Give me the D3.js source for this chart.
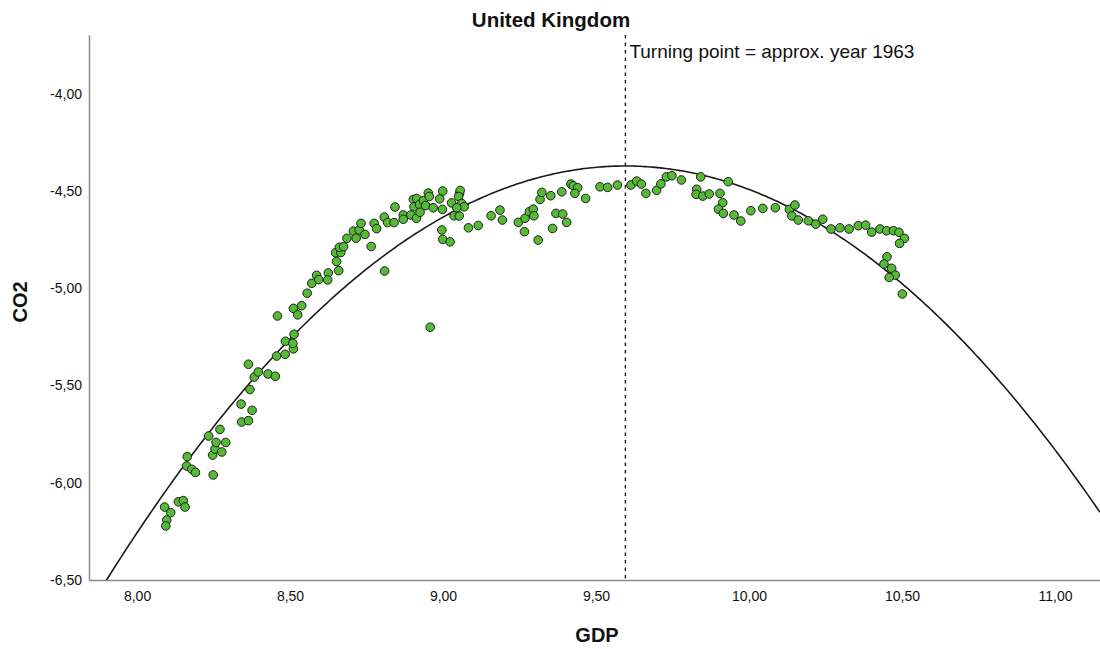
<!DOCTYPE html>
<html>
<head>
<meta charset="utf-8">
<script src="https://cdn.jsdelivr.net/npm/d3@7"></script>
<style>
  html, body { margin: 0; padding: 0; background: #fff; }
  svg { display: block; font-family: "Liberation Sans", Arial, sans-serif; }
</style>
</head>
<body>
<svg id="chart" width="1100" height="649"></svg>
<script>
// Observations: log GDP per capita vs log CO2 per capita
const gdp = [8.090, 8.110, 8.097, 8.094, 8.135, 8.151, 8.157, 8.164, 8.162, 8.179, 8.191, 8.234, 8.249, 8.247, 8.255, 8.258, 8.271, 8.277, 8.290,
  8.340, 8.342, 8.364, 8.369, 8.376, 8.364, 8.383, 8.396, 8.428, 8.452, 8.456, 8.484, 8.511, 8.485, 8.509, 8.513, 8.459, 8.511, 8.525, 8.538,
  8.556, 8.571, 8.587, 8.594, 8.625, 8.623, 8.659, 8.652, 8.649, 8.666, 8.661, 8.675, 8.686, 8.707, 8.716, 8.726, 8.732, 8.745, 8.765, 8.775,
  8.783, 8.809, 8.808, 8.819, 8.840, 8.843, 8.870, 8.870, 8.895, 8.913, 8.903, 8.914, 8.905, 8.923, 8.925, 8.936, 8.952, 8.955, 8.943, 8.968,
  8.989, 8.999, 8.998, 9.028, 9.036, 9.053, 9.054, 9.056, 9.051, 9.061, 9.069, 9.045, 8.996, 8.999, 9.023, 8.958, 9.083, 9.115, 9.157, 9.186,
  9.194, 9.246, 9.268, 9.266, 9.282, 9.295, 9.297, 9.311, 9.317, 9.323, 9.352, 9.358, 9.369, 9.391, 9.404, 9.388, 9.418, 9.426, 9.440, 9.431,
  9.466, 9.513, 9.538, 9.570, 9.614, 9.633, 9.648, 9.663, 9.698, 9.712, 9.730, 9.748, 9.779, 9.842, 9.829, 9.827, 9.849, 9.870, 9.905, 9.932,
  9.914, 9.900, 9.916, 9.951, 9.973, 10.006, 10.045, 10.086, 10.132, 10.150, 10.140, 10.161, 10.194, 10.218, 10.241, 10.268, 10.297, 10.327,
  10.357, 10.381, 10.401, 10.428, 10.450, 10.472, 10.490, 10.508, 10.492, 10.451, 10.441, 10.466, 10.478, 10.458, 10.501];
const co2 = [-6.125, -6.154, -6.192, -6.222, -6.098, -6.092, -6.125, -5.866, -5.914, -5.931, -5.947, -5.760, -5.960, -5.858, -5.827, -5.793, -5.726, -5.842, -5.793,
  -5.596, -5.688, -5.681, -5.521, -5.628, -5.391, -5.457, -5.431, -5.441, -5.453, -5.349, -5.340, -5.312, -5.273, -5.284, -5.237, -5.143, -5.104, -5.137, -5.090,
  -5.026, -4.975, -4.934, -4.956, -4.922, -4.958, -4.910, -4.863, -4.818, -4.817, -4.790, -4.787, -4.744, -4.707, -4.743, -4.701, -4.667, -4.724, -4.786, -4.667,
  -4.694, -4.912, -4.635, -4.663, -4.663, -4.583, -4.624, -4.646, -4.624, -4.641, -4.544, -4.539, -4.582, -4.570, -4.610, -4.550, -4.511, -4.529, -4.576, -4.587,
  -4.541, -4.501, -4.595, -4.562, -4.628, -4.629, -4.513, -4.498, -4.529, -4.565, -4.582, -4.587, -4.701, -4.749, -4.762, -5.201, -4.690, -4.678, -4.628, -4.599,
  -4.650, -4.662, -4.641, -4.710, -4.607, -4.594, -4.628, -4.753, -4.544, -4.508, -4.525, -4.693, -4.616, -4.619, -4.662, -4.505, -4.465, -4.474, -4.484, -4.513,
  -4.539, -4.479, -4.482, -4.470, -4.470, -4.450, -4.465, -4.513, -4.497, -4.464, -4.428, -4.422, -4.444, -4.428, -4.492, -4.518, -4.527, -4.516, -4.513, -4.453,
  -4.561, -4.594, -4.616, -4.624, -4.655, -4.602, -4.590, -4.587, -4.595, -4.573, -4.629, -4.650, -4.654, -4.671, -4.646, -4.696, -4.690, -4.696,
  -4.679, -4.676, -4.712, -4.696, -4.705, -4.705, -4.713, -4.744, -4.770, -4.839, -4.876, -4.898, -4.933, -4.945, -5.030];

// Quadratic fit: CO2 = b0 + b1*GDP + b2*GDP^2
const fitCoef = [-72.514, 14.2021, -0.740];

const xTicks = [8.0, 8.5, 9.0, 9.5, 10.0, 10.5, 11.0];
const yTicks = [-6.5, -6.0, -5.5, -5.0, -4.5, -4.0];

const titleText = "United Kingdom";
const xTitle = "GDP";
const yTitle = "CO2";
const turningLabel = "Turning point = approx. year 1963";

const width = 1100, height = 649;
const margin = { top: 35, right: 0, bottom: 69, left: 89 };
const plotW = width - margin.left - margin.right;
const plotH = height - margin.top - margin.bottom;

const svg = d3.select("#chart");

const x = d3.scaleLinear().domain([7.843, 11.147]).range([margin.left, width - margin.right]);
const y = d3.scaleLinear().domain([-6.5, -3.699]).range([margin.top + plotH, margin.top]);

const locale = d3.formatLocale({ decimal: ",", thousands: ".", grouping: [3], currency: ["", ""], minus: "-" });
const fmt = locale.format(".2f");

svg.append("defs").append("clipPath").attr("id", "plot-clip")
  .append("rect").attr("x", margin.left).attr("y", margin.top).attr("width", plotW).attr("height", plotH);

// Axes
const yAxis = svg.append("g")
  .attr("transform", `translate(${margin.left},0)`)
  .call(d3.axisLeft(y).tickValues(yTicks).tickSize(0).tickPadding(7).tickFormat(fmt));
const xAxis = svg.append("g")
  .attr("transform", `translate(0,${margin.top + plotH})`)
  .call(d3.axisBottom(x).tickValues(xTicks).tickSize(0).tickPadding(11).tickFormat(fmt));

[xAxis, yAxis].forEach(g => {
  g.select(".domain").attr("stroke", "#8a8a8a").attr("stroke-width", 1.5);
  g.selectAll("text").attr("fill", "#111").attr("font-size", 14)
    .attr("font-family", "'Liberation Sans', Arial, sans-serif");
});

// Fitted curve
const b0 = fitCoef[0], b1 = fitCoef[1], b2 = fitCoef[2];
const fit = g => b0 + b1 * g + b2 * g * g;
const curvePts = d3.range(0, 401).map(i => {
  const g = x.domain()[0] + (x.domain()[1] - x.domain()[0]) * i / 400;
  return [g, fit(g)];
});
svg.append("path")
  .datum(curvePts)
  .attr("clip-path", "url(#plot-clip)")
  .attr("fill", "none")
  .attr("stroke", "#1a1a1a")
  .attr("stroke-width", 1.6)
  .attr("d", d3.line().x(d => x(d[0])).y(d => y(d[1])));

// Turning point marker
const turning = -b1 / (2 * b2);
svg.append("line")
  .attr("x1", x(turning)).attr("x2", x(turning))
  .attr("y1", margin.top).attr("y2", margin.top + plotH)
  .attr("stroke", "#1a1a1a").attr("stroke-width", 1.4)
  .attr("stroke-dasharray", "3.5,4");

svg.append("text")
  .attr("x", x(turning) + 4).attr("y", 58)
  .attr("font-size", 19).attr("fill", "#111")
  .text(turningLabel);

// Points
const pts = gdp.map((g, i) => ({ g, c: co2[i] }));
svg.append("g").selectAll("circle")
  .data(pts)
  .join("circle")
  .attr("cx", d => x(d.g))
  .attr("cy", d => y(d.c))
  .attr("r", 4.3)
  .attr("fill", "#55bb35")
  .attr("stroke", "#1e1e1e")
  .attr("stroke-width", 1);

// Titles
svg.append("text")
  .attr("x", 551).attr("y", 27)
  .attr("text-anchor", "middle")
  .attr("font-size", 20.5).attr("font-weight", "bold").attr("fill", "#111")
  .text(titleText);

svg.append("text")
  .attr("x", 597).attr("y", 642)
  .attr("text-anchor", "middle")
  .attr("font-size", 20).attr("font-weight", "bold").attr("fill", "#111")
  .text(xTitle);

svg.append("text")
  .attr("transform", `translate(27,302) rotate(-90)`)
  .attr("text-anchor", "middle")
  .attr("font-size", 20).attr("font-weight", "bold").attr("fill", "#111")
  .text(yTitle);
</script>
</body>
</html>
